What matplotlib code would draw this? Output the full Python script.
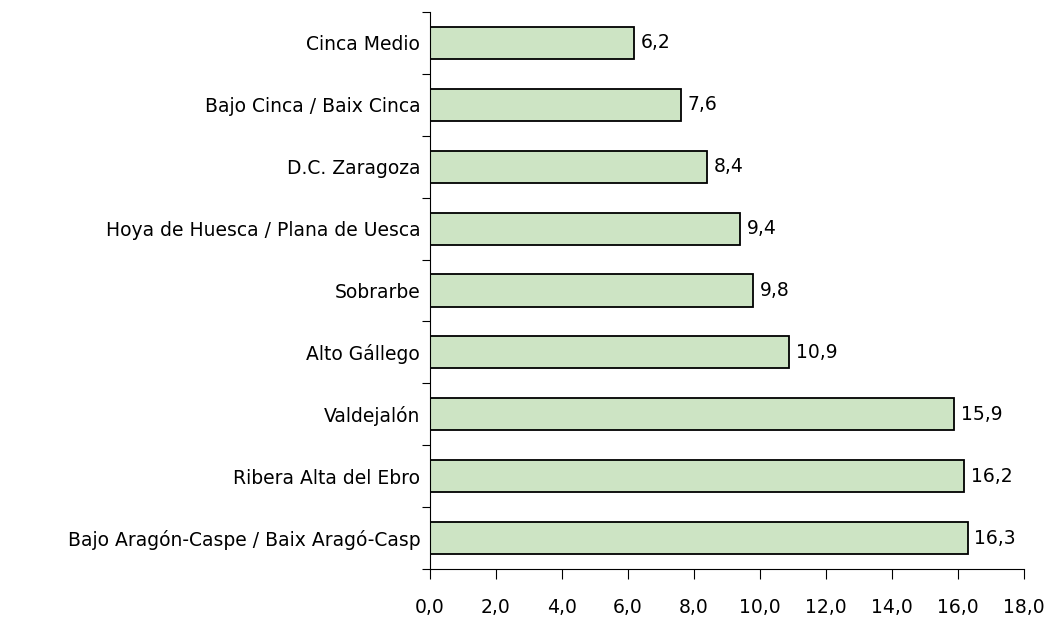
import numpy as np
import matplotlib.pyplot as plt
from matplotlib.ticker import FixedLocator, FuncFormatter

comarcas = ['Cinca Medio', 'Bajo Cinca / Baix Cinca', 'D.C. Zaragoza',
            'Hoya de Huesca / Plana de Uesca', 'Sobrarbe', 'Alto Gállego',
            'Valdejalón', 'Ribera Alta del Ebro',
            'Bajo Aragón-Caspe / Baix Aragó-Casp']
valores = [6.2, 7.6, 8.4, 9.4, 9.8, 10.9, 15.9, 16.2, 16.3]

plt.rcParams['font.family'] = ['DejaVu Sans']

fig = plt.figure(figsize=(10.51, 6.21), dpi=100)
ax = fig.add_axes([0.409, 0.0837, 0.565, 0.897])

y = np.arange(len(comarcas))
ax.barh(y, valores, height=0.52, color='#cde4c4', edgecolor='black', linewidth=1.3)
for yi, v in zip(y, valores):
    ax.text(v + 0.2, yi, f'{v:.1f}'.replace('.', ','), va='center', ha='left', fontsize=13.5)

ax.set_ylim(len(comarcas) - 0.5, -0.5)
ax.set_xlim(0, 18)
ax.set_xticks(np.arange(0, 19, 2))
ax.xaxis.set_major_formatter(FuncFormatter(lambda t, p: f'{t:.1f}'.replace('.', ',')))
ax.set_yticks(y)
ax.set_yticklabels(comarcas)
ax.yaxis.set_minor_locator(FixedLocator(np.arange(-0.5, len(comarcas), 1)))
ax.tick_params(axis='y', which='major', length=0, pad=7, labelsize=13.5)
ax.tick_params(axis='y', which='minor', length=6, width=0.8)
ax.tick_params(axis='x', length=7, width=0.8, pad=14, labelsize=13.5)
for s in ['top', 'right']:
    ax.spines[s].set_visible(False)
ax.spines['left'].set_linewidth(0.8)
ax.spines['bottom'].set_linewidth(0.8)

fig.savefig('out.png', dpi=100)
